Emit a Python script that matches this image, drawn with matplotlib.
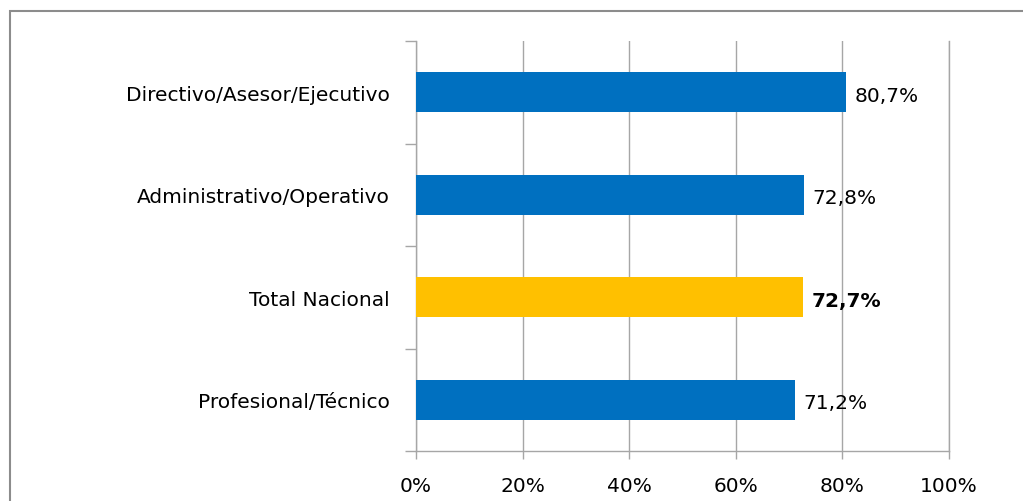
import matplotlib
matplotlib.use("Agg")
import matplotlib.pyplot as plt
from matplotlib.patches import Rectangle

categories = ["Directivo/Asesor/Ejecutivo", "Administrativo/Operativo",
              "Total Nacional", "Profesional/Técnico"]
values = [80.7, 72.8, 72.7, 71.2]
value_labels = ["80,7%", "72,8%", "72,7%", "71,2%"]
highlight = "Total Nacional"
xticks = [0, 20, 40, 60, 80, 100]
xtick_labels = ["0%", "20%", "40%", "60%", "80%", "100%"]

BLUE = "#0070C0"
YELLOW = "#FFC000"
GRID = "#A6A6A6"

plt.rcParams["font.family"] = ["DejaVu Sans"]

fig = plt.figure(figsize=(10.23, 5.02), dpi=100)
ax = fig.add_axes([416/1023, 1-452/502, (949-416)/1023, (452-42)/502])

ypos = list(range(len(categories)))
colors = [YELLOW if c == highlight else BLUE for c in categories]
ax.barh(ypos, values, height=0.39, color=colors, zorder=3)

ax.set_xlim(0, 100)
ax.set_ylim(len(categories)-0.5, -0.5)
ax.set_xticks(xticks)
ax.set_xticklabels(xtick_labels, fontsize=14.5)
ax.set_yticks(ypos)
ax.set_yticklabels(categories, fontsize=14.5)
ax.set_yticks([i-0.5 for i in range(len(categories)+1)], minor=True)
ax.tick_params(axis="y", which="major", length=0, pad=19)
ax.tick_params(axis="y", which="minor", length=8, color=GRID, width=1)
ax.tick_params(axis="x", which="major", length=6, color=GRID, width=1, pad=12)

ax.grid(axis="x", color=GRID, linewidth=1, zorder=0)
ax.axvline(100, color=GRID, linewidth=1, zorder=0, clip_on=False)
for s in ["top", "right"]:
    ax.spines[s].set_visible(False)
for s in ["left", "bottom"]:
    ax.spines[s].set_color(GRID)
    ax.spines[s].set_linewidth(1)

for y, v, lab, c in zip(ypos, values, value_labels, categories):
    ax.annotate(lab, xy=(v, y), xytext=(6, -2), textcoords="offset points",
                va="center", ha="left", fontsize=14.5,
                fontweight="bold" if c == highlight else "normal")

fig.patches.append(Rectangle((10/1023, -0.1), 1.2, 1.1 - 12/502,
                             transform=fig.transFigure, fill=False,
                             edgecolor="#8C8C8C", linewidth=1.5))

fig.savefig("out.png", dpi=100)
